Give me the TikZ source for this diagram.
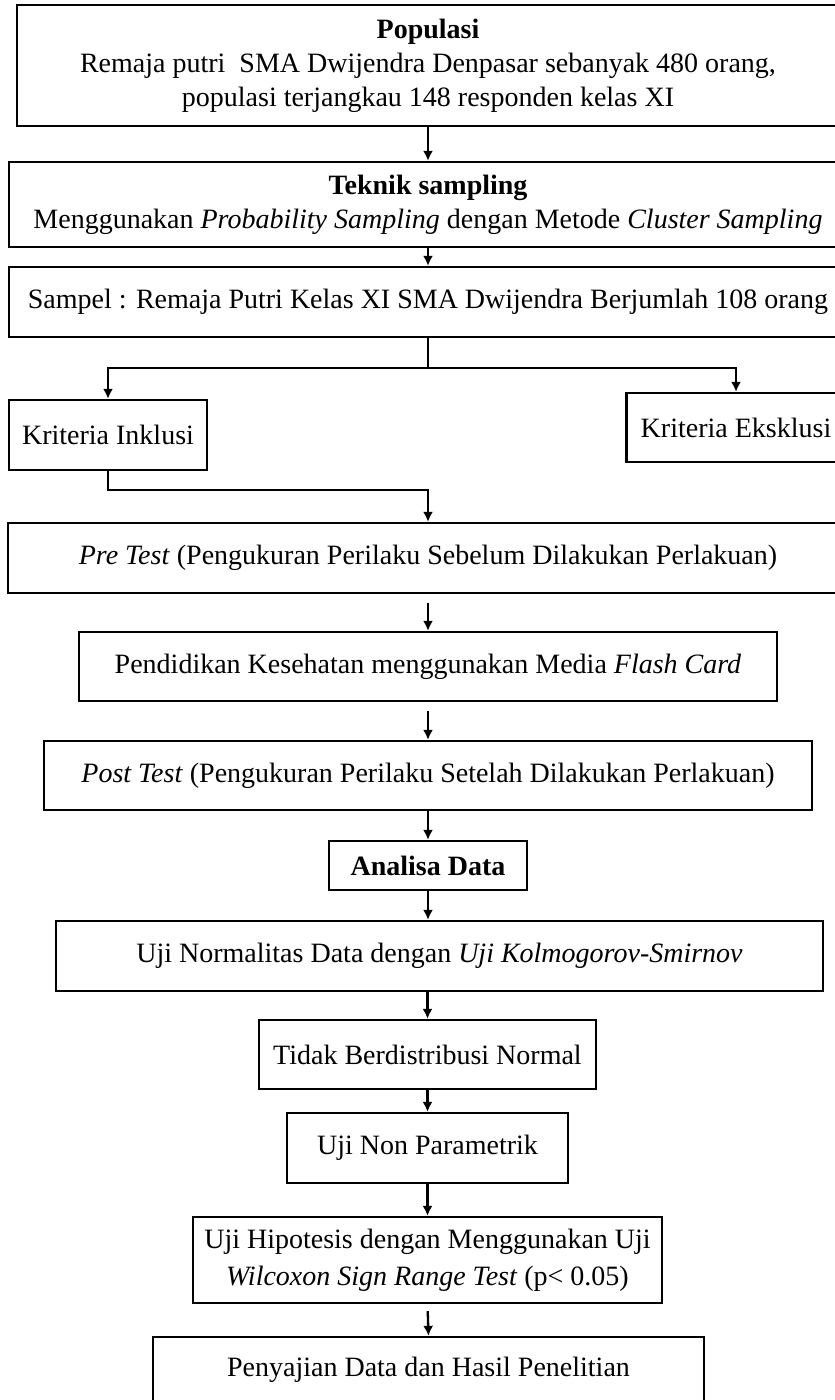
\documentclass[tikz,border=0pt]{standalone}
\usepackage{fontspec}
\setmainfont{Liberation Serif}
\usetikzlibrary{arrows.meta}
\newcommand\boxfont{\fontsize{28}{34}\selectfont}
\begin{document}
\begin{tikzpicture}[x=1pt,y=-1pt,
  box/.style={draw, line width=2.3pt, inner sep=0pt, align=center, font=\boxfont},
  arr/.style={-{Latex[length=10pt,width=10pt]}, line width=2.3pt},
  ln/.style={line width=2.3pt}]
\useasboundingbox (0,0) rectangle (835,1400);
\clip (0,0) rectangle (835,1400);
\fill[white] (0,0) rectangle (835,1400);

\node[box, minimum width=822pt, minimum height=121pt] (pop) at (428,65.5)
  {\textbf{Populasi}\\Remaja putri\ \ SMA Dwijendra Denpasar sebanyak 480 orang,\\populasi terjangkau 148 responden kelas XI};
\node[box, minimum width=838pt, minimum height=85pt] (tek) at (428,204.5)
  {\textbf{Teknik sampling}\\Menggunakan \textit{Probability Sampling} dengan Metode \textit{Cluster Sampling}};
\node[box, minimum width=838pt, minimum height=70pt] (sam) at (428,302)
  {Sampel : Remaja Putri Kelas XI SMA Dwijendra Berjumlah 108 orang};
\node[box, minimum width=198pt, minimum height=70pt] (ink) at (108,435) {Kriteria Inklusi};
\node[box, minimum width=219pt, minimum height=69pt] (eks) at (736,427.5) {Kriteria Eksklusi};
\node[box, minimum width=840pt, minimum height=70pt] (pre) at (428,558)
  {\textit{Pre Test} (Pengukuran Perilaku Sebelum Dilakukan Perlakuan)};
\node[box, minimum width=698pt, minimum height=69pt] (pen) at (428,666.5)
  {Pendidikan Kesehatan menggunakan Media \textit{Flash Card}};
\node[box, minimum width=768pt, minimum height=69pt] (post) at (428,775.5)
  {\textit{Post Test} (Pengukuran Perilaku Setelah Dilakukan Perlakuan)};
\node[box, minimum width=198pt, minimum height=49pt] (ana) at (428,865.5) {\textbf{Analisa Data}};
\node[box, minimum width=767pt, minimum height=70pt] (uji) at (439.5,956)
  {Uji Normalitas Data dengan \textit{Uji Kolmogorov-Smirnov}};
\node[box, minimum width=337pt, minimum height=69pt] (tdk) at (427.5,1054.5) {Tidak Berdistribusi Normal};
\node[box, minimum width=281pt, minimum height=70pt] (non) at (427.5,1148) {Uji Non Parametrik};
\node[box, minimum width=469pt, minimum height=86pt] (hip) at (427.5,1260)
  {Uji Hipotesis dengan Menggunakan Uji\\[3pt]\textit{Wilcoxon Sign Range Test} (p< 0.05)};
\node[box, minimum width=551pt, minimum height=66pt] (pny) at (428.5,1370) {Penyajian Data dan Hasil Penelitian};

\coordinate (split) at (428,368);
\coordinate (join) at (428,490);

\draw[arr] (pop.south) -- (tek.north);
\draw[arr] (tek.south) -- (sam.north);
\draw[ln] (sam.south) -- (split);
\draw[arr] (split) -| (ink.north);
\draw[arr] (split) -| (eks.north);
\draw[arr] (ink.south) |- (join) -- (pre.north);
\draw[arr, shorten <=9pt] (pre.south) -- (pen.north);
\draw[arr, shorten <=9pt] (pen.south) -- (post.north);
\draw[arr] (post.south) -- (ana.north);
\draw[arr] (ana.south) -- (ana.south |- uji.north);
\draw[arr] (uji.south -| tdk.north) -- (tdk.north);
\draw[arr] (tdk.south) -- (non.north);
\draw[arr] (non.south) -- (hip.north);
\draw[arr, shorten <=7pt] (hip.south) -- (pny.north);
\end{tikzpicture}
\end{document}
